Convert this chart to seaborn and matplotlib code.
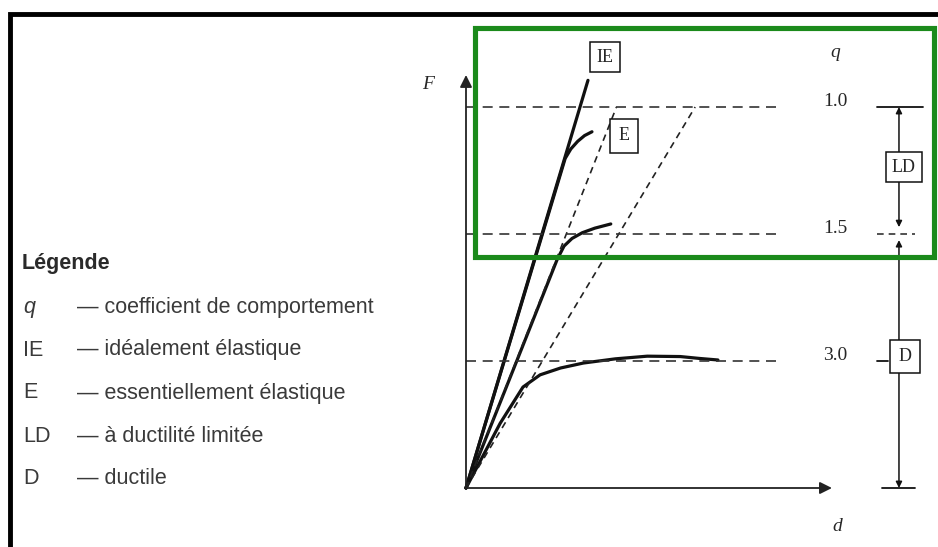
import numpy as np
import pandas as pd
import matplotlib
matplotlib.use('Agg')
import matplotlib.pyplot as plt
import seaborn as sns
from matplotlib.patches import Rectangle

# Coefficients de comportement q et niveaux F = Fe / q
q_levels = [1.0, 1.5, 3.0]
q_labels = ['1.0', '1.5', '3.0']

# Courbes force-déplacement (d normalisé sur la droite élastique, F normalisé sur Fe)
ie_d = [0.0, 1.07]
ie_F = [0.0, 1.07]
e_d = [0.0, 0.87, 0.92, 0.98, 1.04, 1.105]
e_F = [0.0, 0.865, 0.89, 0.91, 0.925, 0.935]
ld_d = [0.0, 0.45, 0.80, 0.86, 0.93, 1.02, 1.13, 1.27]
ld_F = [0.0, 0.337, 0.60, 0.635, 0.655, 0.67, 0.682, 0.693]
d_d = [0.0, 0.30, 0.50, 0.65, 0.83, 1.03, 1.31, 1.59, 1.88, 2.05, 2.21]
d_F = [0.0, 0.17, 0.265, 0.297, 0.315, 0.328, 0.339, 0.346, 0.345, 0.34, 0.336]

# droites élastiques équivalentes (d atteint à F = 1)
elastique_d = [1.32, 2.01]

legende_sym = ['q', 'IE', 'E', 'LD', 'D']
legende_txt = ['coefficient de comportement', 'idéalement élastique',
               'essentiellement élastique', 'à ductilité limitée', 'ductile']

df = pd.concat([
    pd.DataFrame({'d': ie_d, 'F': ie_F, 'courbe': 'IE'}),
    pd.DataFrame({'d': e_d, 'F': e_F, 'courbe': 'E'}),
    pd.DataFrame({'d': ld_d, 'F': ld_F, 'courbe': 'LD'}),
    pd.DataFrame({'d': d_d, 'F': d_F, 'courbe': 'D'}),
])

sns.set_style('white')
plt.rcParams['font.family'] = ['Liberation Sans', 'DejaVu Sans']
serif = ['Liberation Serif', 'DejaVu Serif']

W, H = 938, 547
ox, oy, sx, sy = 466, 488, 114, 381   # origine et échelle du diagramme (pixels)

fig = plt.figure(figsize=(W / 100, H / 100), dpi=100)
fig.patch.set_facecolor('white')

# Diagramme
ax = fig.add_axes([0, 0, 1, 1], facecolor='none')
ax.set_xlim(-ox / sx, (W - ox) / sx)
ax.set_ylim(-(H - oy) / sy, oy / sy)
ax.axis('off')

sns.lineplot(data=df, x='d', y='F', units='courbe', estimator=None, sort=False,
             color='#111111', linewidth=2.3, ax=ax, legend=False)

F_levels = [1 / q for q in q_levels]
for de in elastique_d:
    ax.plot([0, de], [0, F_levels[0]], color='#222222', lw=1.2, ls=(0, (4, 3)))
for Fq, lab in zip(F_levels, q_labels):
    ax.plot([0, 2.77], [Fq, Fq], color='#333333', lw=1.2, ls=(0, (6, 4)))
    ax.text(3.237, Fq + 0.014, lab, ha='center', va='center', fontsize=14, family=serif)

# axes F et d
arr = dict(arrowstyle='-|>', color='#222222', lw=1.3, mutation_scale=18, shrinkA=0, shrinkB=0)
ax.annotate('', xy=(0, 1.084), xytext=(0, 0), arrowprops=arr)
ax.annotate('', xy=(3.21, 0), xytext=(0, 0), arrowprops=arr)
ax.text(-0.333, 1.058, 'F', fontsize=14, style='italic', family=serif, ha='center', va='center')
ax.text(3.254, -0.102, 'd', fontsize=14, style='italic', family=serif, ha='center', va='center')
ax.text(3.237, 1.144, 'q', fontsize=14, style='italic', family=serif, ha='center', va='center')

# cotes LD / D à droite
xr = 3.798
ax.plot([3.605, 4.009], [F_levels[0]] * 2, color='#111111', lw=1.3)
ax.plot([3.605, 3.94], [F_levels[1]] * 2, color='#333333', lw=1.2, ls=(0, (4, 3)))
ax.plot([3.605, 3.70], [F_levels[2]] * 2, color='#111111', lw=1.3)
ax.plot([3.65, 3.94], [0, 0], color='#111111', lw=1.3)
dim = dict(arrowstyle='<|-|>', color='#111111', lw=1.1, mutation_scale=9, shrinkA=0, shrinkB=0)
ax.annotate('', xy=(xr, F_levels[0]), xytext=(xr, F_levels[1] + 0.018), arrowprops=dim)
ax.annotate('', xy=(xr, F_levels[1] - 0.016), xytext=(xr, 0), arrowprops=dim)

for lab, (bx, by), pad in [('IE', (1.219, 1.131), 0.35), ('E', (1.386, 0.924), 0.45),
                           ('LD', (3.842, 0.8425), 0.35), ('D', (3.85, 0.346), 0.45)]:
    box = dict(boxstyle=f'square,pad={pad}', fc='white', ec='#111111', lw=1.1)
    ax.text(bx, by, lab, ha='center', va='center', fontsize=13, family=serif, bbox=box)

# Cadre, encadré vert et légende (pixels)
bg = fig.add_axes([0, 0, 1, 1], facecolor='none', zorder=3)
bg.set_xlim(0, W)
bg.set_ylim(H, 0)
bg.axis('off')
bg.plot([10, 10, W], [H, 14, 14], color='black', lw=3.5, solid_joinstyle='miter')
bg.add_patch(Rectangle((474.5, 27.5), 459, 229, fill=False, ec='#1b8a1b', lw=3.7))

bg.text(22, 263, 'Légende', fontsize=15.5, fontweight='bold', color='#2a2a2a', va='center')
rows = np.linspace(307, 479, len(legende_sym))
for yy, s, t in zip(rows, legende_sym, legende_txt):
    bg.text(23, yy, s, fontsize=15.5, color='#3a3a3a', va='center',
            style='italic' if s == 'q' else 'normal')
    bg.text(77, yy, '— ' + t, fontsize=15.5, color='#3a3a3a', va='center')

fig.savefig('out.png', dpi=100)
